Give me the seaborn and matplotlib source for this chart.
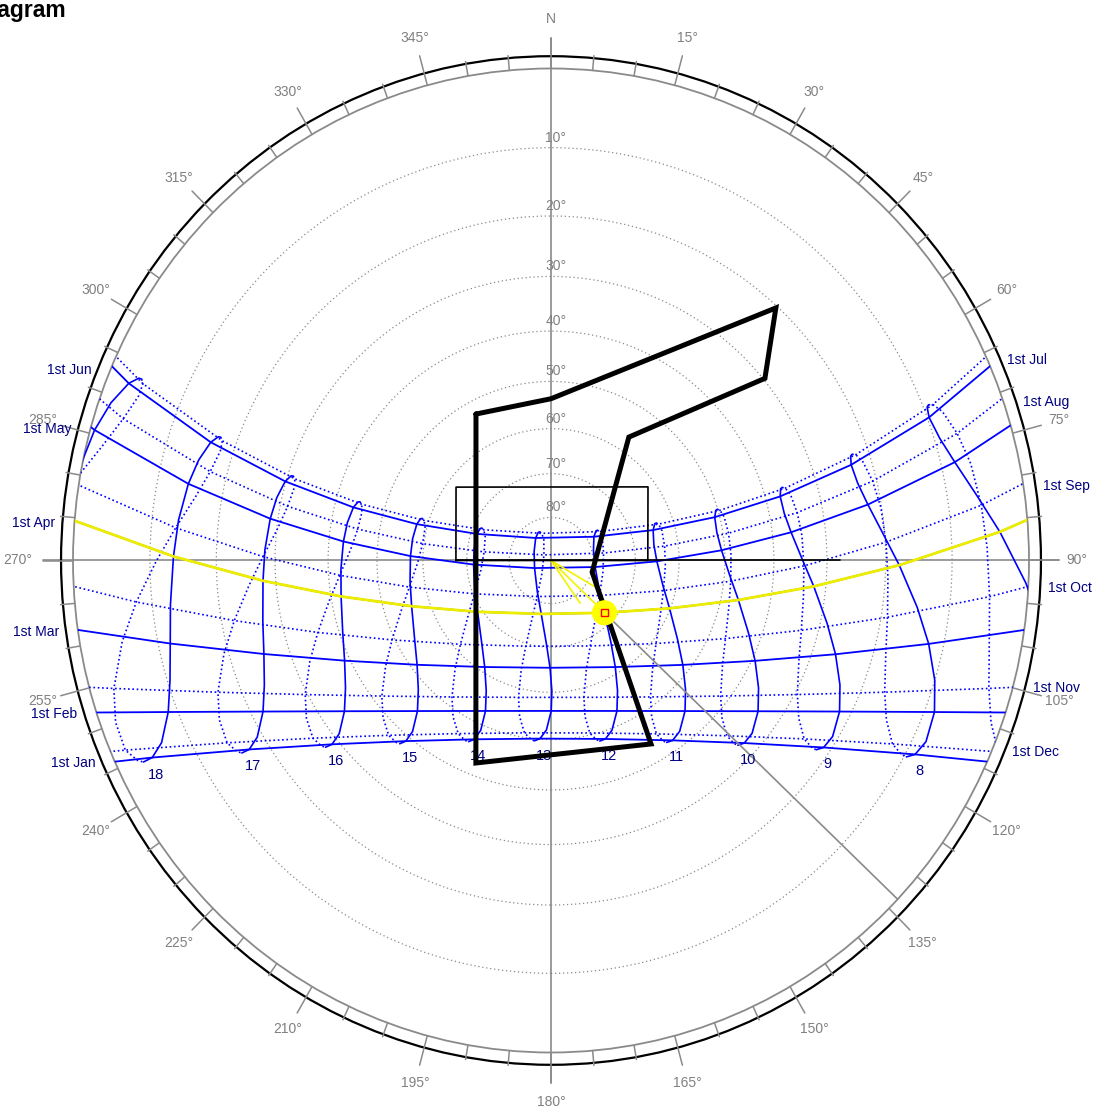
import numpy as np
import matplotlib
matplotlib.use("Agg")
import matplotlib.pyplot as plt
from matplotlib.patches import Circle
import seaborn as sns

# ---------------- site ----------------
LATITUDE = 16.8            # degrees north
NOON_SHIFT_MIN = 46.6      # clock minutes between 12:00 and local mean noon

# ---------------- 1st-of-month sun paths ----------------
month_labels = ["1st Jan", "1st Feb", "1st Mar", "1st Apr", "1st May", "1st Jun",
                "1st Jul", "1st Aug", "1st Sep", "1st Oct", "1st Nov", "1st Dec"]
month_decl = [-23.0, -17.2, -7.8, 4.4, 15.0, 22.0, 23.1, 18.1, 8.4, -3.0, -14.3, -21.8]
month_eot = [-3.3, -13.6, -12.5, -4.1, 2.9, 2.4, -3.8, -6.3, -0.1, 10.1, 16.4, 11.0]

# ---------------- analemma sample dates ----------------
# winter solstice -> summer solstice (solid)
rise_decl = [-23.44, -23.0, -21.2, -17.2, -12.9, -7.8, -2.4, 4.4, 9.6, 15.0, 18.8, 22.0, 23.3, 23.44]
rise_eot = [1.8, -3.3, -9.2, -13.6, -14.2, -12.5, -9.1, -4.1, -0.1, 2.9, 3.7, 2.4, -0.1, -1.6]
# summer solstice -> winter solstice (dotted)
fall_decl = [23.44, 23.1, 21.6, 18.1, 13.8, 8.4, 3.1, -3.0, -8.4, -14.3, -18.4, -21.8, -23.2, -23.44]
fall_eot = [-1.6, -3.8, -6.0, -6.3, -4.5, -0.1, 4.7, 10.1, 14.1, 16.4, 15.4, 11.0, 4.8, 1.8]

path_hours = list(range(3, 22))
hour_lines = list(range(6, 21))
labelled_hours = list(range(8, 19))

# ---------------- current sun ----------------
today_decl = 4.4
today_eot = -4.1
now_clock = 12.0

# sun-ray fan drawn from the zenith (azimuth, altitude of ray ends)
ray_az = [144.9, 120.2]
ray_alt = [77.9, 77.3]

# ---------------- obstruction outline (azimuth, altitude) ----------------
obst_az = [332.2, 200.9, 150.7, 105.3, 33.0, 50.4, 42.5, 0.0, 332.2]
obst_alt = [52.8, 42.45, 43.7, 79.8, 56.7, 29.7, 20.3, 53.6, 52.8]

# ---------------- window outline and sill edge (azimuth, altitude) ----------------
win_az = [270.0, 306.9, 53.6, 90.0, 270.0]
win_alt = [67.5, 62.1, 61.7, 67.1, 67.5]
sill_az = [270.0, 90.0]
sill_alt = [67.5, 27.7]

# ---------------- rings and ticks ----------------
alt_rings = [10, 20, 30, 40, 50, 60, 70, 80]
az_labels = list(range(0, 360, 15))
az_minor = list(range(0, 360, 5))

BLUE = "#0000ff"
NAVY = "#000080"
GREY = "#8a8a8a"
DOT = (0, (1, 1.6))


def sun_xy(decl, eot, clock):
    d = np.radians(np.asarray(decl, float))
    p = np.radians(LATITUDE)
    h = np.radians(15.0 * (np.asarray(clock, float) - 12.0)
                   - (NOON_SHIFT_MIN - np.asarray(eot, float)) / 4.0)
    s = np.sin(p) * np.sin(d) + np.cos(p) * np.cos(d) * np.cos(h)
    east = -np.cos(d) * np.sin(h)
    north = np.cos(p) * np.sin(d) - np.sin(p) * np.cos(d) * np.cos(h)
    k = 1.0 + s
    return east / k, north / k, s


def sky_xy(az, alt):
    a = np.radians(np.asarray(az, float))
    e = np.radians(np.asarray(alt, float))
    r = np.cos(e) / (1.0 + np.sin(e))
    return r * np.sin(a), r * np.cos(a)


def broken(x, y, s):
    xs, ys = [], []
    for i in range(len(x)):
        if i > 0 and s[i] < 0 and s[i - 1] < 0:
            xs.append(np.nan)
            ys.append(np.nan)
        xs.append(x[i])
        ys.append(y[i])
    return np.array(xs), np.array(ys)


sns.set_theme(style="white")
plt.rcParams["font.family"] = ["Liberation Sans", "DejaVu Sans"]

W, H = 1099, 1112
fig = plt.figure(figsize=(W / 100, H / 100), dpi=100)
ax = fig.add_axes([0, 0, 1, 1])
ax.set_xlim(-551 / 478, (W - 551) / 478)
ax.set_ylim((560.5 - H) / 492, 560.5 / 492)
ax.set_axis_off()

horizon = Circle((0, 0), 1.0, transform=ax.transData)

# altitude rings
for a in alt_rings:
    r = np.cos(np.radians(a)) / (1 + np.sin(np.radians(a)))
    ax.add_patch(Circle((0, 0), r, fill=False, ec=GREY, lw=0.9, ls=(0, (1, 2.2)), zorder=1))
    ax.annotate(f"{a}°", (0, r), xytext=(5, 3), textcoords="offset pixels",
                ha="center", va="bottom", color="#808080", fontsize=10, zorder=2)

ax.add_patch(Circle((0, 0), 1.0, fill=False, ec=GREY, lw=1.3, zorder=2))
ax.add_patch(Circle((0, 0), 1.025, fill=False, ec="black", lw=1.6, zorder=2))

for a in az_minor:
    t = np.radians(a)
    r1 = 1.062 if a % 15 == 0 else 1.03
    ax.plot([np.sin(t), r1 * np.sin(t)], [np.cos(t), r1 * np.cos(t)], color=GREY, lw=1.1, zorder=2)
ax.plot([-1.062, 1.062], [0, 0], color=GREY, lw=1.2, zorder=1)
ax.plot([0, 0], [-1.062, 1.062], color=GREY, lw=1.2, zorder=1)

for a in az_labels:
    t = np.radians(a)
    txt = "N" if a == 0 else f"{a}°"
    rr = 1.115 if a == 270 else 1.10
    ax.text(rr * np.sin(t), rr * np.cos(t), txt, ha="center", va="center",
            color="#808080", fontsize=10, zorder=3)

# hour lines (analemmas)
for hr in hour_lines:
    for decl, eot, ls in ((rise_decl, rise_eot, "-"), (fall_decl, fall_eot, DOT)):
        x, y, s = sun_xy(decl, eot, np.full(len(decl), hr))
        xs, ys = broken(x, y, s)
        ln, = ax.plot(xs, ys, color=BLUE, lw=1.2, ls=ls, zorder=4)
        ln.set_clip_path(horizon)

# date lines
for i, (lab, decl, eot) in enumerate(zip(month_labels, month_decl, month_eot)):
    x, y, s = sun_xy(np.full(len(path_hours), decl), np.full(len(path_hours), eot), path_hours)
    xs, ys = broken(x, y, s)
    ls = "-" if i < 6 else DOT
    ln, = ax.plot(xs, ys, color=BLUE, lw=1.3 if i < 6 else 1.2, ls=ls, zorder=4)
    ln.set_clip_path(horizon)
    ca = np.sin(np.radians(decl)) / np.cos(np.radians(LATITUDE))
    az_set = np.degrees(np.arccos(ca))
    if i < 6:
        px, py = sky_xy(360 - az_set, 0)
        ax.annotate(lab, (px, py), xytext=(-19, -2), textcoords="offset pixels",
                    ha="right", va="center", color=NAVY, fontsize=10, zorder=6)
    else:
        px, py = sky_xy(az_set, 0)
        ax.annotate(lab, (px, py), xytext=(20, -1), textcoords="offset pixels",
                    ha="left", va="center", color=NAVY, fontsize=10, zorder=6)

# hour labels beneath the 1st Jan path
for hr in labelled_hours:
    x, y, s = sun_xy(month_decl[0], month_eot[0], hr)
    ax.annotate(str(hr), (x, y), xytext=(4, -17), textcoords="offset pixels",
                ha="center", va="center", color=NAVY, fontsize=10.5, zorder=6)

# today's path
x, y, s = sun_xy(np.full(len(path_hours), today_decl), np.full(len(path_hours), today_eot), path_hours)
xs, ys = broken(x, y, s)
ln, = ax.plot(xs, ys, color="#eded00", lw=2.0, zorder=5)
ln.set_clip_path(horizon)

# window outline and sill edge
wx, wy = sky_xy(win_az, win_alt)
ax.plot(wx, wy, color="black", lw=1.2, zorder=6)
lx, ly = sky_xy(sill_az, sill_alt)
ax.plot(lx, ly, color="black", lw=1.2, zorder=6)

# obstruction outline
ox, oy = sky_xy(obst_az, obst_alt)
ax.plot(ox, oy, color="black", lw=3.6, solid_joinstyle="miter", zorder=7)

# current sun position, rays from the zenith and bearing to the horizon
sx, sy, ss = sun_xy(today_decl, today_eot, now_clock)
sun_alt = np.degrees(np.arcsin(ss))
sun_az = np.degrees(np.arctan2(sx, sy)) % 360
bx, by = sky_xy([sun_az, sun_az], [sun_alt, 0])
ax.plot(bx, by, color=GREY, lw=1.2, zorder=5)
rx, ry = sky_xy(ray_az, ray_alt)
for ex, ey in zip(list(rx) + [sx], list(ry) + [sy]):
    ax.plot([0, ex], [0, ey], color="#f2f200", lw=1.2, zorder=5)
sns.scatterplot(x=[sx], y=[sy], s=330, color="#ffff00", edgecolor="none", ax=ax, zorder=8)
sns.scatterplot(x=[sx], y=[sy], s=28, marker="s", facecolor="none", edgecolor="red",
                linewidth=1.0, ax=ax, zorder=9)

fig.text(66 / W, 1 - 10 / H, "Sun Path Diagram", ha="right", va="center",
         fontsize=16.5, fontweight="bold", color="black")

fig.savefig("out.png", dpi=100)
